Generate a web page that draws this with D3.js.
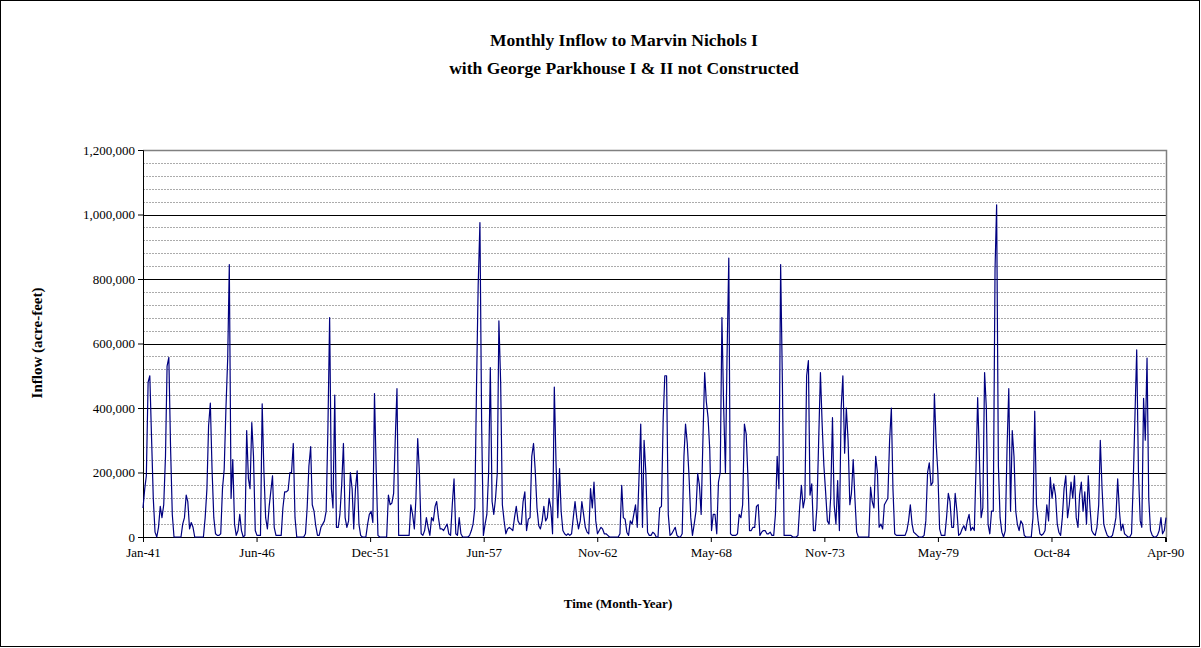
<!DOCTYPE html>
<html>
<head>
<meta charset="utf-8">
<script src="https://cdn.jsdelivr.net/npm/d3@7"></script>
<style>
  body { margin: 0; background: #fff; }
  svg { display: block; }
  text { font-family: "Liberation Serif", "Times New Roman", serif; fill: #000; }
</style>
</head>
<body>
<svg id="chart" width="1201" height="648"></svg>
<script>
// Monthly inflow, thousand acre-feet, starting January 1941 (one row per year)
const inflow1941s = [
  90,150,190,480,500,305,120,15,0,30,95,60,
  100,250,530,557,280,70,0,0,0,0,0,40,
  60,130,110,25,45,30,0,0,0,0,0,0,
  60,150,345,415,210,60,10,5,5,10,150,210,
  400,555,845,120,240,40,5,20,70,20,0,5,
  330,180,150,355,250,20,5,5,5,413,200,60,
  25,95,140,190,30,5,5,5,5,90,140,140,
  145,200,200,290,60,0,0,0,0,0,10,90,
  220,280,100,80,35,5,5,30,40,50,80,330,
  680,150,90,440,30,30,70,160,290,60,30,50
];
const inflow1951s = [
  200,150,25,150,205,40,5,0,0,0,40,70,
  80,45,445,200,5,0,0,0,0,0,130,100,
  105,135,300,460,5,5,5,5,5,5,5,100,
  70,25,120,305,200,10,5,20,60,30,5,60,
  50,95,110,60,25,25,20,30,40,10,5,100,
  180,10,5,60,10,0,0,0,0,5,20,40,
  90,480,780,975,350,5,40,70,200,525,110,70,
  120,200,670,480,100,50,10,25,30,25,20,60,
  95,50,40,40,110,140,20,55,60,250,290,205,
  90,35,25,50,95,50,60,120,90,10,465,230
];
const inflow1961s = [
  60,212,80,20,10,5,10,5,10,60,110,60,
  25,50,110,70,30,15,10,150,90,170,50,10,
  20,30,25,10,10,5,0,0,0,0,0,0,
  10,160,60,55,15,5,50,40,70,100,30,180,
  350,30,300,200,15,5,5,15,10,0,0,90,
  95,370,500,500,70,5,10,20,30,5,0,0,
  10,250,350,290,190,60,5,40,80,197,160,70,
  300,510,420,370,270,20,70,70,10,170,200,680,
  400,200,560,865,10,5,5,5,10,70,60,100,
  350,320,200,20,20,30,30,95,100,5,15,20
];
const inflow1971s = [
  20,10,10,15,5,5,70,250,150,845,480,5,
  5,5,5,5,0,0,0,5,95,160,90,120,
  500,547,130,165,20,20,90,300,510,350,220,140,
  50,40,125,370,100,40,175,20,400,500,260,400,
  300,100,135,240,120,15,0,0,0,0,0,0,
  0,155,110,90,250,200,30,40,25,100,110,120,
  300,400,150,10,5,5,5,5,5,5,20,50,
  100,40,15,10,5,0,0,0,5,50,200,230,
  160,170,444,290,200,25,5,5,5,60,135,110,
  30,30,135,80,5,10,25,35,20,50,70,20
];
const inflow1981s = [
  30,20,200,432,250,60,90,510,400,40,10,80,
  80,830,1030,220,60,15,0,20,280,460,80,330,
  250,80,40,20,50,40,5,0,0,0,0,60,
  390,100,50,10,5,10,20,100,50,185,120,165,
  130,40,15,5,60,150,190,60,100,170,120,190,
  60,30,130,170,80,140,40,190,90,20,10,5,
  30,100,300,150,40,20,5,0,0,5,30,60,
  180,80,20,40,10,5,0,0,10,170,380,580,
  200,50,30,430,300,555,120,20,5,0,0,5,
  20,60,10,20,60
];

const yMajorTicks = [0, 200000, 400000, 600000, 800000, 1000000, 1200000];
const yMinorStep = 40000;
const labelStepDays = 2000;   // date-axis major unit
const labelCount = 10;

const titleLines = ["Monthly Inflow to Marvin Nichols I",
                    "with George Parkhouse I & II not Constructed"];
const xTitle = "Time (Month-Year)";
const yTitle = "Inflow (acre-feet)";

// ---------------------------------------------------------------
const series = [].concat(inflow1941s, inflow1951s, inflow1961s, inflow1971s, inflow1981s)
  .map((v, i) => ({ date: new Date(1941, i, 1), value: v * 1000 }));

const svg = d3.select("#chart");
const plot = { left: 143, right: 1166, top: 150, bottom: 537 };

const x = d3.scaleTime()
  .domain([series[0].date, series[series.length - 1].date])
  .range([plot.left, plot.right]);
const y = d3.scaleLinear().domain([0, 1200000]).range([plot.bottom, plot.top]);

// outer frame
svg.append("rect").attr("x", 0.5).attr("y", 0.5).attr("width", 1199).attr("height", 646)
  .attr("fill", "#fff").attr("stroke", "#000").attr("stroke-width", 1);

// titles
svg.selectAll("text.title").data(titleLines).join("text")
  .attr("class", "title")
  .attr("x", 624).attr("y", (d, i) => 46 + i * 28)
  .attr("text-anchor", "middle")
  .attr("font-size", 17.5).attr("font-weight", "bold")
  .text(d => d);

// minor gridlines
const minor = d3.range(yMinorStep, 1200000, yMinorStep).filter(v => v % 200000 !== 0);
svg.append("g").selectAll("line").data(minor).join("line")
  .attr("x1", plot.left).attr("x2", plot.right)
  .attr("y1", d => Math.round(y(d)) + 0.5).attr("y2", d => Math.round(y(d)) + 0.5)
  .attr("stroke", "#ababab").attr("stroke-width", 1).attr("stroke-dasharray", "2,1");

// major gridlines
svg.append("g").selectAll("line").data(yMajorTicks.filter(v => v > 0 && v < 1200000)).join("line")
  .attr("x1", plot.left).attr("x2", plot.right)
  .attr("y1", d => Math.round(y(d)) + 0.5).attr("y2", d => Math.round(y(d)) + 0.5)
  .attr("stroke", "#000").attr("stroke-width", 1);

// plot-area border (top / right)
svg.append("path")
  .attr("d", `M${plot.left},${plot.top + 0.5}H${plot.right + 0.5}V${plot.bottom}`)
  .attr("fill", "none").attr("stroke", "#808080").attr("stroke-width", 1.5);

// y axis
const yAxis = d3.axisLeft(y).tickValues(yMajorTicks).tickSize(5).tickPadding(3)
  .tickFormat(d3.format(","));
const gy = svg.append("g").attr("transform", `translate(${plot.left},0)`).call(yAxis);
gy.select(".domain").attr("stroke", "#000");
gy.selectAll("text").attr("font-size", 13).attr("font-family", "Liberation Serif");

// x axis: labels every 2000 days from the start
const labelDates = d3.range(labelCount).map(k => d3.timeDay.offset(series[0].date, k * labelStepDays));
const xAxis = d3.axisBottom(x).tickValues(labelDates).tickSize(5).tickPadding(6)
  .tickFormat(d3.timeFormat("%b-%y"));
const gx = svg.append("g").attr("transform", `translate(0,${plot.bottom})`).call(xAxis);
gx.select(".domain").attr("stroke", "#000");
gx.selectAll("text").attr("font-size", 13).attr("font-family", "Liberation Serif");

// axis titles
svg.append("text").attr("x", 618).attr("y", 608).attr("text-anchor", "middle")
  .attr("font-size", 13).attr("font-weight", "bold").text(xTitle);
svg.append("text").attr("transform", "translate(42,343) rotate(-90)").attr("text-anchor", "middle")
  .attr("font-size", 15).attr("font-weight", "bold").text(yTitle);

// inflow line
svg.append("path").datum(series)
  .attr("fill", "none").attr("stroke", "#000080").attr("stroke-width", 1.2)
  .attr("stroke-linejoin", "round")
  .attr("d", d3.line().x(d => x(d.date)).y(d => y(d.value)));
</script>
</body>
</html>
